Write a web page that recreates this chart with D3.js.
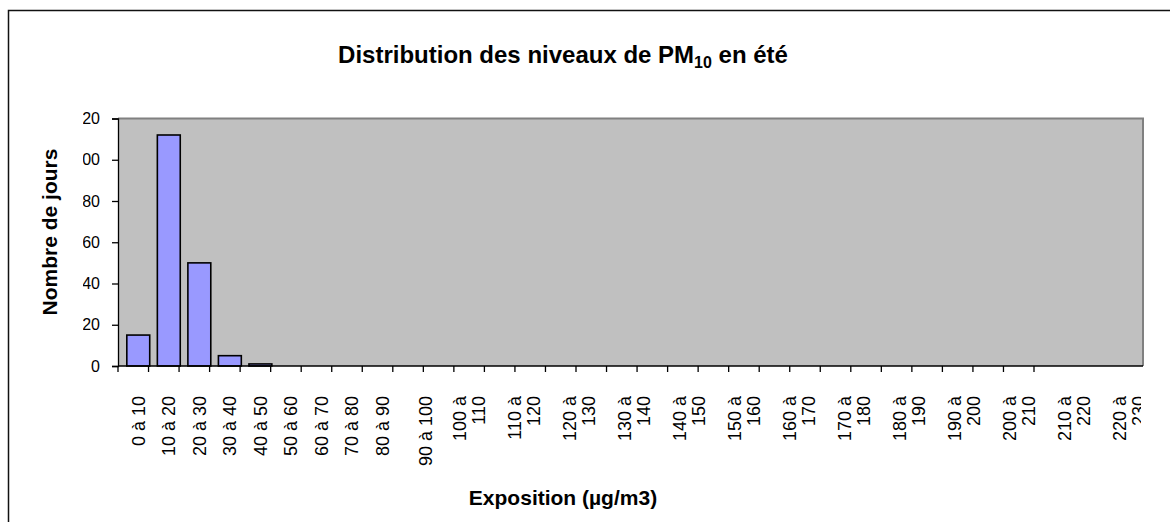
<!DOCTYPE html>
<html>
<head>
<meta charset="utf-8">
<script src="https://cdn.jsdelivr.net/npm/d3@7"></script>
<style>
  body { margin: 0; background: #fff; }
  svg { display: block; font-family: "Liberation Sans", Arial, sans-serif; }
</style>
</head>
<body>
<svg id="chart" width="1170" height="522"></svg>
<script>
// Exposure bins (µg/m3) and number of summer days in each bin
const categories = [
  "0 à 10", "10 à 20", "20 à 30", "30 à 40", "40 à 50", "50 à 60",
  "60 à 70", "70 à 80", "80 à 90", "90 à 100", "100 à 110", "110 à 120",
  "120 à 130", "130 à 140", "140 à 150", "150 à 160", "160 à 170", "170 à 180",
  "180 à 190", "190 à 200", "200 à 210", "210 à 220", "220 à 230", "230 à 240",
  "240 à 250", "250 à 260", "260 à 270", "270 à 280", "280 à 290", "290 à 300"
];
const days = [
  15, 112, 50, 5, 1, 0, 0, 0, 0, 0, 0, 0, 0, 0, 0,
  0, 0, 0, 0, 0, 0, 0, 0, 0, 0, 0, 0, 0, 0, 0
];
const yTicks = [0, 20, 40, 60, 80, 100, 120];

const titleMain = "Distribution des niveaux de PM";
const titleSub = "10";
const titleEnd = " en été";
const xTitle = "Exposition (µg/m3)";
const yTitle = "Nombre de jours";

/* Layout */
const plot = { left: 118, right: 1143, top: 118.5, bottom: 366 };
const axisEnd = 1034;      // the category ticks stop before the plot edge
const barShift = 5;        // bars sit a little right of the tick intervals

const svg = d3.select("#chart");
const defs = svg.append("defs");
// the original export cuts the y labels and the last category label
defs.append("clipPath").attr("id", "clip-y")
  .append("rect").attr("x", 83).attr("y", 0).attr("width", 100).attr("height", 522);
defs.append("clipPath").attr("id", "clip-x")
  .append("rect").attr("x", 0).attr("y", 0).attr("width", 1141).attr("height", 522);

const x = d3.scaleBand()
  .domain(categories)
  .range([plot.left, axisEnd])
  .paddingInner(0.25)
  .paddingOuter(0.125);

const y = d3.scaleLinear()
  .domain([0, 120])
  .range([plot.bottom, plot.top]);

// Outer frame (only top and left visible)
svg.append("path")
  .attr("d", "M8.5,522V10.5H1170")
  .attr("fill", "none")
  .attr("stroke", "#111")
  .attr("stroke-width", 1.5);

// Plot background
svg.append("rect")
  .attr("x", plot.left)
  .attr("y", plot.top)
  .attr("width", plot.right - plot.left)
  .attr("height", plot.bottom - plot.top)
  .attr("fill", "#c0c0c0");
svg.append("path")
  .attr("d", `M${plot.left},${plot.top}H${plot.right}V${plot.bottom}`)
  .attr("fill", "none")
  .attr("stroke", "#808080")
  .attr("stroke-width", 2);

// Bars
svg.append("g")
  .selectAll("rect")
  .data(categories.map((c, i) => ({ c, v: days[i] })).filter(d => d.v > 0))
  .join("rect")
  .attr("x", d => x(d.c) + barShift)
  .attr("y", d => y(d.v))
  .attr("width", x.bandwidth())
  .attr("height", d => y(0) - y(d.v))
  .attr("fill", "#9999ff")
  .attr("stroke", "#000")
  .attr("stroke-width", 1.6);

// Y axis (line + ticks from d3, labels redrawn in a clipped group)
const yAxis = svg.append("g")
  .attr("transform", `translate(${plot.left},0)`)
  .call(d3.axisLeft(y).tickValues(yTicks).tickSize(6));
yAxis.select(".domain").attr("stroke", "#000").attr("stroke-width", 1.3);
yAxis.selectAll(".tick line").attr("stroke", "#000").attr("stroke-width", 1.3);
yAxis.selectAll(".tick text").remove();

svg.append("g")
  .attr("clip-path", "url(#clip-y)")
  .selectAll("text")
  .data(yTicks)
  .join("text")
  .attr("x", plot.left - 18)
  .attr("y", d => y(d))
  .attr("dy", "0.35em")
  .attr("text-anchor", "end")
  .attr("font-size", 16)
  .attr("fill", "#000")
  .text(d => d);

// X axis line and ticks at category boundaries
const step = x.step();
const tickPos = d3.range(categories.length + 1).map(i => plot.left + i * step);
svg.append("line")
  .attr("x1", plot.left).attr("x2", plot.right)
  .attr("y1", plot.bottom).attr("y2", plot.bottom)
  .attr("stroke", "#000").attr("stroke-width", 1.3);
svg.append("g")
  .selectAll("line")
  .data(tickPos)
  .join("line")
  .attr("x1", d => d).attr("x2", d => d)
  .attr("y1", plot.bottom).attr("y2", plot.bottom + 6)
  .attr("stroke", "#000").attr("stroke-width", 1.3);

// Category labels: short ones sit under their bars, long ones wrap on two lines
const firstCenter = x(categories[0]) + barShift + x.bandwidth() / 2;
const labelX = d3.scaleLinear()
  .domain([0, 8, 10, 22])
  .range([firstCenter, firstCenter + 8 * step,
          firstCenter + 10.85 * step, firstCenter + (10.85 + 12 * 1.8) * step]);
const lineH = 19;
const xLabels = svg.append("g").attr("clip-path", "url(#clip-x)");
categories.forEach((c, i) => {
  const cx = labelX(i);
  if (cx > plot.right) return; // no room left for it
  const cut = c.lastIndexOf(" ");
  const lines = c.length > 8 ? [c.slice(0, cut), c.slice(cut + 1)] : [c];
  lines.forEach((ln, k) => {
    const lx = cx + (k - (lines.length - 1) / 2) * lineH;
    xLabels.append("text")
      .attr("transform", `translate(${lx},396) rotate(-90)`)
      .attr("text-anchor", "end")
      .attr("dy", "0.35em")
      .attr("font-size", 18)
      .attr("fill", "#000")
      .text(ln);
  });
});

// Titles
const title = svg.append("text")
  .attr("x", 563)
  .attr("y", 63)
  .attr("text-anchor", "middle")
  .attr("font-size", 24)
  .attr("font-weight", "bold")
  .attr("fill", "#000");
title.append("tspan").text(titleMain);
title.append("tspan").attr("font-size", 16).attr("dy", 5).text(titleSub);
title.append("tspan").attr("dy", -5).text(titleEnd);

svg.append("text")
  .attr("x", 563)
  .attr("y", 505)
  .attr("text-anchor", "middle")
  .attr("font-size", 21)
  .attr("font-weight", "bold")
  .attr("fill", "#000")
  .text(xTitle);

svg.append("text")
  .attr("transform", `translate(57,232) rotate(-90)`)
  .attr("text-anchor", "middle")
  .attr("font-size", 21)
  .attr("font-weight", "bold")
  .attr("fill", "#000")
  .text(yTitle);
</script>
</body>
</html>
